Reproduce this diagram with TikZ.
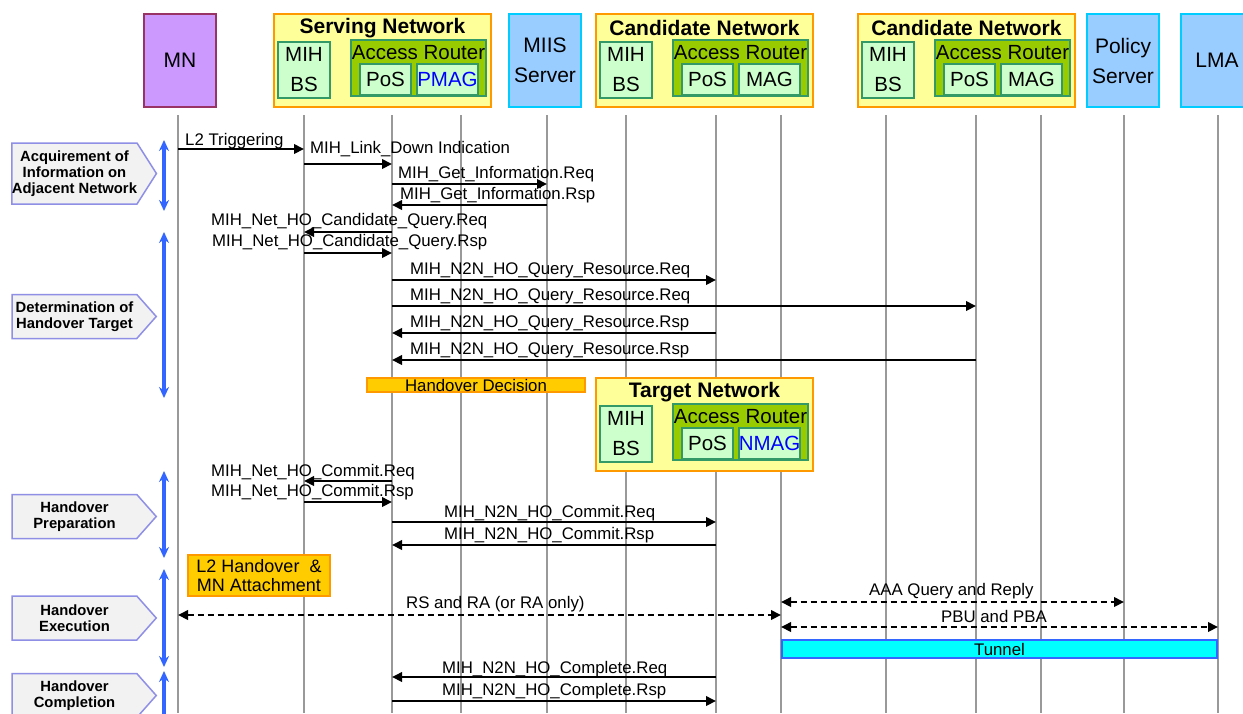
\documentclass[tikz,border=0pt]{standalone}
\usepackage{fontspec}
\setmainfont{Liberation Sans}
\usetikzlibrary{arrows.meta,positioning,shapes.symbols}

\definecolor{mnfill}{HTML}{CC99FF}
\definecolor{mnline}{HTML}{993366}
\definecolor{netfill}{HTML}{FFFF99}
\definecolor{netline}{HTML}{FF9900}
\definecolor{bsfill}{HTML}{CCFFCC}
\definecolor{bsline}{HTML}{339966}
\definecolor{arfill}{HTML}{99CC00}
\definecolor{srvfill}{HTML}{99CCFF}
\definecolor{srvline}{HTML}{00CCFF}
\definecolor{hofill}{HTML}{FFCC00}
\definecolor{phfill}{HTML}{F2F2F2}
\definecolor{phline}{HTML}{8F8FE6}
\definecolor{phblue}{HTML}{3366FF}
\definecolor{tunfill}{HTML}{00FFFF}
\definecolor{lifegray}{HTML}{999999}

\tikzset{
    %Define standard arrow tip
    >={Triangle[length=10pt,width=9.5pt]},
    %Define style for entity boxes
    entity/.style={
           rectangle,
           draw, line width=2pt,
           minimum width=72pt,
           minimum height=93pt,
           inner sep=0pt,
           align=center,
           font=\fontsize{21}{30}\selectfont},
    mnbox/.style={entity, fill=mnfill, draw=mnline},
    srvbox/.style={entity, fill=srvfill, draw=srvline},
    %Define style for network blocks
    netbox/.style={
           rectangle, anchor=north west,
           draw=netline, fill=netfill, line width=2pt,
           minimum width=217pt, minimum height=93pt},
    nettitle/.style={inner sep=0pt, font=\bfseries\fontsize{21}{24}\selectfont},
    bsbox/.style={
           rectangle,
           draw=bsline, fill=bsfill, line width=2pt,
           minimum width=52pt, minimum height=56pt,
           inner sep=0pt, align=center,
           font=\fontsize{20.5}{30}\selectfont},
    arbox/.style={
           rectangle,
           draw=bsline, fill=arfill, line width=2pt,
           minimum width=135pt, minimum height=56pt},
    artext/.style={inner sep=0pt, font=\fontsize{20.5}{24}\selectfont},
    subbox/.style={
           rectangle,
           draw=bsline, fill=bsfill, line width=2pt,
           minimum height=31pt, inner sep=0pt,
           font=\fontsize{20.5}{24}\selectfont},
    %Define style for phases
    phasebox/.style={
           signal, signal to=east,
           draw=phline, fill=phfill, line width=1.5pt,
           minimum width=144pt, inner sep=0pt,
           align=center,
           font=\bfseries\fontsize{14.8}{16}\selectfont},
    span/.style={
           {Stealth[length=11pt,width=10pt]}-{Stealth[length=11pt,width=10pt]},
           draw=phblue, line width=3.5pt},
    %Define style for lifelines and messages
    lifeline/.style={draw=lifegray, line width=2pt},
    msg/.style={->, line width=2pt},
    dmsg/.style={<->, line width=2pt, dash pattern=on 6pt off 4pt},
    msglbl/.style={anchor=base west, inner sep=0pt, font=\fontsize{16.8}{18}\selectfont},
    hobox/.style={
           rectangle,
           draw=netline, fill=hofill, line width=2pt,
           inner sep=0pt, align=center},
    tunnel/.style={
           rectangle,
           draw=phblue, fill=tunfill, line width=2pt,
           inner sep=0pt, font=\fontsize{16.8}{18}\selectfont}
}

% network block: name, left, top, title, MAG label
\newcommand{\netblock}[5]{%
  \node[netbox] (#1) at (#2,#3) {};
  \node[nettitle] (#1-title) at ([yshift=-15pt]#1.north) {#4};
  \node[bsbox] (#1-bs) at ([xshift=31pt,yshift=-57pt]#1.north west) {MIH\\BS};
  \node[arbox] (#1-ar) at ([xshift=145.5pt,yshift=-55pt]#1.north west) {};
  \node[artext] (#1-artext) at ([yshift=-14pt]#1-ar.north) {Access Router};
  \node[subbox, minimum width=51pt] (#1-pos) at ([xshift=112.5pt,yshift=-66.5pt]#1.north west) {PoS};
  \node[subbox, minimum width=61pt] (#1-mag) at ([xshift=174.5pt,yshift=-66.5pt]#1.north west) {#5};
}

\begin{document}
\begin{tikzpicture}[x=1pt, y=-1pt]
\useasboundingbox (0,0) rectangle (1243,713);
\clip (0,0) rectangle (1243,713);
\fill[white] (0,0) rectangle (1243,713);

%lifelines
\coordinate (mn) at (178,115);
\coordinate (sbs) at (304,115);
\coordinate (spos) at (392,115);
\coordinate (smag) at (461,115);
\coordinate (miis) at (547,115);
\coordinate (c1bs) at (626,115);
\coordinate (c1pos) at (716,115);
\coordinate (c1mag) at (781,115);
\coordinate (c2bs) at (886,115);
\coordinate (c2pos) at (976,115);
\coordinate (c2mag) at (1041,115);
\coordinate (ps) at (1124,115);
\coordinate (lma) at (1218,115);
\foreach \n in {mn,sbs,spos,smag,miis,c1bs,c1pos,c1mag,c2bs,c2pos,c2mag,ps,lma}
  \draw[lifeline] (\n) -- (\n |- 0,713);

%header
\node[mnbox] (mnbox) at (180,60) {MN};
\netblock{sn}{273}{13}{Serving Network}{\textcolor{blue}{PMAG}}
\node[srvbox] (miisbox) at (545,60.5) {MIIS\\Server};
\netblock{cna}{595}{13}{Candidate Network}{MAG}
\netblock{cnb}{857}{13}{Candidate Network}{MAG}
\node[srvbox] (psbox) at (1123,60.5) {Policy\\Server};
\node[srvbox] (lmabox) at (1217,60.5) {LMA};

%phases
\node[phasebox, minimum height=61pt, signal pointer angle=115] (acq) at (74.5,173.5)
  {Acquirement of\\Information on\\Adjacent Network};
\node[phasebox, minimum height=44pt, signal pointer angle=97] (det) at (74.5,316.5)
  {Determination of\\Handover Target};
\node[phasebox, minimum height=44pt, signal pointer angle=97] (prep) at (74.5,516.5)
  {Handover\\Preparation};
\node[phasebox, minimum height=44pt, signal pointer angle=97] (exec) at (74.5,618)
  {Handover\\Execution};
\node[phasebox, minimum height=44pt, signal pointer angle=97] (compl) at (74.5,695.5)
  {Handover\\Completion};
\draw[span] (164,140) -- (164,211);
\draw[span] (164,232) -- (164,398);
\draw[span] (164,471) -- (164,558);
\draw[span] (164,569) -- (164,667);
\draw[span] (164,671) -- (164,726);

%acquirement of information
\draw[msg] (mn |- 0,149) -- (sbs |- 0,149);
\node[msglbl] (l2trig) at (185,145) {L2 Triggering};
\draw[msg] (sbs |- 0,164) -- (spos |- 0,164);
\node[msglbl] (linkdown) at (310,153) {MIH\_Link\_Down Indication};
\draw[msg] (spos |- 0,184) -- (miis |- 0,184);
\node[msglbl] (getreq) at (398,178) {MIH\_Get\_Information.Req};
\draw[msg] (miis |- 0,205) -- (spos |- 0,205);
\node[msglbl] (getrsp) at (400,199) {MIH\_Get\_Information.Rsp};

%determination of target
\draw[msg] (spos |- 0,232) -- (sbs |- 0,232);
\node[msglbl] (candreq) at (211,225) {MIH\_Net\_HO\_Candidate\_Query.Req};
\draw[msg] (sbs |- 0,253) -- (spos |- 0,253);
\node[msglbl] (candrsp) at (212,246) {MIH\_Net\_HO\_Candidate\_Query.Rsp};
\draw[msg] (spos |- 0,280) -- (c1pos |- 0,280);
\node[msglbl] (qreqa) at (410,274) {MIH\_N2N\_HO\_Query\_Resource.Req};
\draw[msg] (spos |- 0,306) -- (c2pos |- 0,306);
\node[msglbl] (qreqb) at (410,300) {MIH\_N2N\_HO\_Query\_Resource.Req};
\draw[msg] (c1pos |- 0,333) -- (spos |- 0,333);
\node[msglbl] (qrspa) at (410,327) {MIH\_N2N\_HO\_Query\_Resource.Rsp};
\draw[msg] (c2pos |- 0,360) -- (spos |- 0,360);
\node[msglbl] (qrspb) at (410,354) {MIH\_N2N\_HO\_Query\_Resource.Rsp};
\node[hobox, minimum width=218pt, minimum height=14pt, font=\fontsize{16.8}{18}\selectfont] (hodec) at (476,385) {Handover Decision};
\netblock{tn}{595}{377}{Target Network}{\textcolor{blue}{NMAG}}

%preparation
\draw[msg] (spos |- 0,481) -- (sbs |- 0,481);
\node[msglbl] (nhreq) at (211,476) {MIH\_Net\_HO\_Commit.Req};
\draw[msg] (sbs |- 0,502) -- (spos |- 0,502);
\node[msglbl] (nhrsp) at (211,496) {MIH\_Net\_HO\_Commit.Rsp};
\draw[msg] (spos |- 0,522) -- (c1pos |- 0,522);
\node[msglbl] (ncreq) at (444,517) {MIH\_N2N\_HO\_Commit.Req};
\draw[msg] (c1pos |- 0,545) -- (spos |- 0,545);
\node[msglbl] (ncrsp) at (444,539) {MIH\_N2N\_HO\_Commit.Rsp};

%execution
\node[hobox, minimum width=142pt, minimum height=41pt, font=\fontsize{18}{19}\selectfont] (l2ho) at (259,575.5) {L2 Handover~~\&\\MN Attachment};
\draw[dmsg] (c1mag |- 0,602) -- (ps |- 0,602);
\node[msglbl] (aaa) at (869,595) {AAA Query and Reply};
\draw[dmsg] (mn |- 0,615) -- (c1mag |- 0,615);
\node[msglbl] (rsra) at (406,608) {RS and RA (or RA only)};
\draw[dmsg] (c1mag |- 0,627) -- (lma |- 0,627);
\node[msglbl] (pbu) at (941,622) {PBU and PBA};
\node[tunnel, minimum width=435pt, minimum height=18pt] (tun) at (999.5,649) {Tunnel};

%completion
\draw[msg] (c1pos |- 0,677) -- (spos |- 0,677);
\node[msglbl] (cpreq) at (442,673) {MIH\_N2N\_HO\_Complete.Req};
\draw[msg] (spos |- 0,701) -- (c1pos |- 0,701);
\node[msglbl] (cprsp) at (442,695) {MIH\_N2N\_HO\_Complete.Rsp};
\end{tikzpicture}
\end{document}
